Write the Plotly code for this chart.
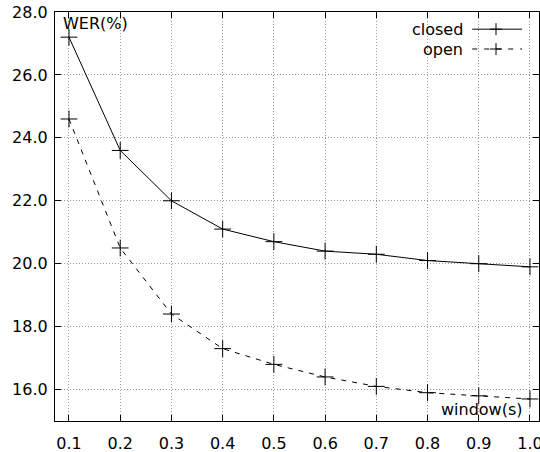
import plotly.graph_objects as go

window = [0.1, 0.2, 0.3, 0.4, 0.5, 0.6, 0.7, 0.8, 0.9, 1.0]
closed = [27.2, 23.6, 22.0, 21.1, 20.7, 20.4, 20.3, 20.1, 20.0, 19.9]
open_ = [24.6, 20.5, 18.4, 17.3, 16.8, 16.4, 16.1, 15.9, 15.8, 15.7]
x_ticks = [0.1, 0.2, 0.3, 0.4, 0.5, 0.6, 0.7, 0.8, 0.9, 1.0]
y_ticks = [16, 18, 20, 22, 24, 26, 28]

FONT = "DejaVu Sans"
marker = dict(symbol="cross-thin-open", size=12, line=dict(width=1, color="black"), color="black")

fig = go.Figure()
fig.add_trace(go.Scatter(x=window, y=closed, mode="lines+markers", name="closed",
                         line=dict(color="black", width=1), marker=marker))
fig.add_trace(go.Scatter(x=window, y=open_, mode="lines+markers", name="open",
                         line=dict(color="black", width=1, dash="5px,6px"), marker=marker))

axis_common = dict(showline=True, linecolor="black", linewidth=1.2, mirror="ticks",
                   ticks="inside", ticklen=6, tickcolor="black", tickwidth=1,
                   showgrid=True, gridcolor="#9a9a9a", griddash="1px,2px", gridwidth=1,
                   zeroline=False, ticklabeloverflow="allow", automargin=False,
                   tickfont=dict(family=FONT, size=16, color="black"))

fig.update_xaxes(range=[0.0727, 1.0176], tickvals=x_ticks, ticklabelstandoff=8,
                 ticktext=[f"{v:.1f}" for v in x_ticks], **axis_common)
fig.update_yaxes(range=[15, 28], tickvals=y_ticks, ticklabelstandoff=3,
                 ticktext=[f"{v:.1f}" for v in y_ticks], **axis_common)

# axis labels inside plot
fig.add_annotation(xref="paper", yref="paper", x=0.012, y=1.0, xanchor="left", yanchor="top",
                   text="WER(%)", showarrow=False, font=dict(family=FONT, size=16, color="black"))
fig.add_annotation(xref="paper", yref="paper", x=0.972, y=0.0, xanchor="right", yanchor="bottom",
                   text="window(s)", showarrow=False, font=dict(family=FONT, size=16, color="black"))

# custom legend (text left, sample right) as gnuplot
legend_items = [("closed", "solid", 0.958), ("open", "5px,7px", 0.9095)]
cx = (496 - 55) / 484
for name, dash, yy in legend_items:
    fig.add_annotation(xref="paper", yref="paper", x=0.848, y=yy, xanchor="right", yanchor="middle",
                       text=name, showarrow=False, font=dict(family=FONT, size=16, color="black"))
    fig.add_shape(type="line", xref="paper", yref="paper", x0=0.862, x1=0.965, y0=yy, y1=yy,
                  line=dict(color="black", width=1, dash=dash))
    fig.add_shape(type="line", xref="paper", yref="paper", x0=cx - 0.0124, x1=cx + 0.0124,
                  y0=yy, y1=yy, line=dict(color="black", width=1))
    fig.add_shape(type="line", xref="paper", yref="paper", x0=cx, x1=cx,
                  y0=yy - 0.0147, y1=yy + 0.0147, line=dict(color="black", width=1))

fig.update_layout(width=540, height=452, margin=dict(l=55, r=1, t=12, b=31),
                  paper_bgcolor="white", plot_bgcolor="white", showlegend=False,
                  font=dict(family=FONT, size=16, color="black"))

fig.write_html("out.html")
